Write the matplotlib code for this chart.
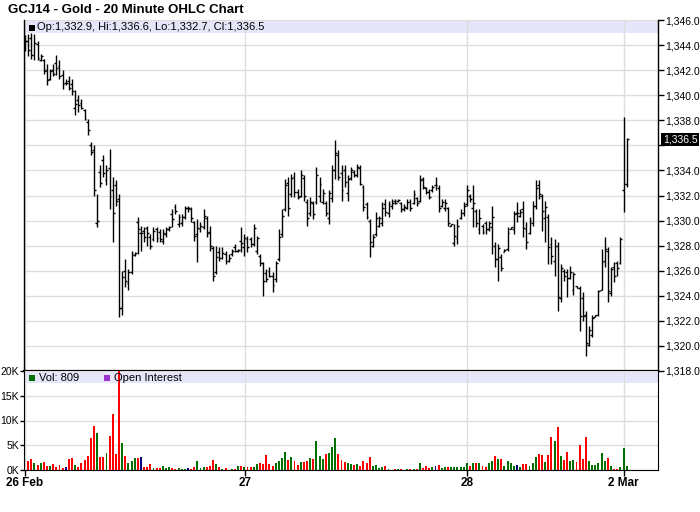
import matplotlib
matplotlib.use("Agg")
import matplotlib.pyplot as plt
import matplotlib.transforms as mtransforms
from matplotlib.patches import Rectangle
import numpy as np

plt.rcParams['font.family'] = ['Liberation Sans', 'DejaVu Sans']

# --- Data: 20 minute bars ---
TITLE = "GCJ14 - Gold - 20 Minute OHLC Chart"

highs = [
    1344.8, 1344.9, 1345.0, 1344.9, 1344.3, 1343.3, 1342.9, 1342.5, 1342.1, 1342.5,
    1343.2, 1342.8, 1342.0, 1341.3, 1341.5, 1341.3, 1340.4, 1340.0, 1339.7, 1338.9,
    1338.1, 1336.3, 1336.0, 1332.1, 1334.4, 1335.2, 1334.4, 1335.7, 1333.5, 1333.2,
    1332.1, 1326.0, 1326.9, 1326.1, 1327.6, 1327.5, 1330.3, 1329.6, 1329.5, 1329.6,
    1328.9, 1329.5, 1329.5, 1329.3, 1329.3, 1329.5, 1329.6, 1330.9, 1331.3, 1330.5,
    1330.5, 1331.2, 1331.2, 1331.1, 1330.0, 1330.1, 1329.9, 1330.9, 1330.4, 1329.6,
    1328.0, 1328.0, 1327.9, 1327.9, 1327.6, 1327.3, 1327.7, 1328.1, 1327.7, 1329.5,
    1328.9, 1328.8, 1328.7, 1329.7, 1328.8, 1327.3, 1326.7, 1326.1, 1326.3, 1325.9,
    1326.8, 1329.3, 1330.9, 1333.3, 1333.5, 1333.7, 1333.9, 1332.5, 1334.0, 1333.6,
    1331.7, 1331.9, 1331.6, 1334.3, 1333.5, 1332.5, 1331.6, 1332.4, 1334.4, 1336.4,
    1335.6, 1334.4, 1334.4, 1333.6, 1334.3, 1334.0, 1334.5, 1334.4, 1332.8, 1331.5,
    1330.1, 1328.9, 1330.7, 1330.4, 1331.5, 1331.7, 1331.6, 1331.7, 1331.7, 1331.7,
    1331.5, 1331.3, 1331.7, 1331.7, 1332.4, 1331.9, 1333.6, 1333.5, 1332.7, 1332.5,
    1332.8, 1333.5, 1332.8, 1331.7, 1331.7, 1331.1, 1329.75, 1329.7, 1330.1, 1330.9,
    1331.5, 1332.8, 1332.1, 1332.8, 1330.9, 1330.9, 1329.7, 1330.0, 1330.0, 1331.2,
    1328.3, 1328.1, 1327.3, 1327.7, 1329.5, 1329.5, 1330.8, 1331.5, 1330.9, 1331.6,
    1329.9, 1330.3, 1331.6, 1333.2, 1333.2, 1332.1, 1331.6, 1330.5, 1328.7, 1328.5,
    1328.3, 1326.5, 1326.1, 1326.1, 1326.4, 1325.9, 1324.8, 1324.8, 1324.3, 1322.8,
    1321.6, 1322.5, 1322.5, 1324.5, 1327.7, 1328.7, 1327.9, 1326.3, 1326.7, 1326.8,
    1328.7, 1338.3, 1336.6,
]

lows = [
    1343.5, 1343.1, 1342.9, 1342.8, 1342.8, 1342.7, 1341.7, 1340.8, 1341.2, 1341.5,
    1341.6, 1341.3, 1340.5, 1340.8, 1340.4, 1340.0, 1338.4, 1338.7, 1338.9, 1338.0,
    1336.8, 1335.2, 1332.0, 1329.5, 1332.7, 1333.5, 1332.8, 1330.9, 1328.3, 1331.2,
    1322.3, 1322.5, 1324.7, 1324.5, 1325.7, 1327.2, 1327.3, 1327.6, 1328.3, 1328.0,
    1327.7, 1328.4, 1328.3, 1328.3, 1328.1, 1328.7, 1329.2, 1329.5, 1330.5, 1329.5,
    1329.6, 1330.1, 1330.7, 1329.9, 1328.4, 1326.7, 1329.1, 1329.3, 1328.7, 1327.6,
    1325.2, 1325.7, 1326.8, 1326.9, 1326.5, 1326.7, 1327.2, 1327.5, 1327.5, 1327.5,
    1327.2, 1327.5, 1327.9, 1328.0, 1327.3, 1326.4, 1324.0, 1325.1, 1325.5, 1324.3,
    1325.1, 1326.8, 1328.7, 1330.8, 1330.4, 1331.9, 1331.9, 1331.7, 1331.9, 1331.6,
    1329.6, 1330.4, 1330.1, 1331.3, 1331.5, 1331.3, 1330.4, 1329.7, 1331.5, 1333.3,
    1333.2, 1331.6, 1332.7, 1331.6, 1333.2, 1333.5, 1333.5, 1332.8, 1330.8, 1330.1,
    1327.1, 1327.9, 1328.8, 1329.5, 1329.6, 1330.4, 1330.3, 1330.9, 1331.3, 1331.5,
    1330.7, 1330.8, 1330.9, 1330.8, 1331.3, 1331.2, 1331.5, 1332.5, 1332.1, 1331.7,
    1332.3, 1332.4, 1330.7, 1331.1, 1330.8, 1329.6, 1329.6, 1328.0, 1328.1, 1330.1,
    1330.4, 1331.2, 1331.5, 1329.5, 1329.5, 1328.9, 1328.9, 1328.9, 1329.2, 1327.3,
    1326.3, 1325.2, 1326.0, 1327.5, 1327.6, 1329.3, 1328.9, 1329.9, 1330.3, 1328.7,
    1327.7, 1328.9, 1329.6, 1330.9, 1331.7, 1329.2, 1328.3, 1326.5, 1326.5, 1325.6,
    1322.8, 1323.5, 1325.2, 1323.9, 1325.3, 1324.1, 1324.6, 1321.2, 1322.0, 1319.2,
    1320.0, 1320.7, 1322.3, 1322.4, 1324.5, 1326.3, 1323.5, 1324.0, 1325.1, 1325.6,
    1326.5, 1330.7, 1332.7,
]

opens = [
    1343.7, 1344.3, 1344.6, 1343.2, 1344.1, 1342.8, 1342.8, 1342.0, 1341.3, 1342.0,
    1342.6, 1342.3, 1341.6, 1341.0, 1341.1, 1340.9, 1339.0, 1339.6, 1339.4, 1338.8,
    1337.9, 1336.0, 1335.6, 1329.8, 1333.9, 1334.8, 1333.2, 1334.2, 1332.4, 1332.8,
    1331.7, 1323.0, 1326.0, 1325.0, 1325.9, 1327.25, 1329.9, 1329.0, 1329.2, 1329.4,
    1328.7, 1328.5, 1329.3, 1329.1, 1328.4, 1328.9, 1329.3, 1330.5, 1331.1, 1329.7,
    1329.8, 1330.3, 1331.0, 1330.9, 1329.9, 1328.9, 1329.3, 1329.5, 1330.2, 1329.1,
    1327.8, 1325.9, 1327.5, 1327.0, 1327.3, 1326.8, 1327.3, 1327.9, 1327.55, 1328.4,
    1327.9, 1328.5, 1328.5, 1328.1, 1327.6, 1327.2, 1326.6, 1325.8, 1326.0, 1325.6,
    1325.3, 1326.9, 1328.9, 1330.9, 1333.0, 1332.1, 1333.5, 1332.3, 1332.0, 1333.4,
    1331.5, 1330.6, 1331.4, 1331.5, 1332.0, 1331.5, 1331.4, 1330.2, 1331.8, 1334.0,
    1335.2, 1333.8, 1334.0, 1332.2, 1333.4, 1333.9, 1333.6, 1334.2, 1332.7, 1331.3,
    1330.0, 1328.0, 1328.9, 1329.6, 1329.8, 1331.3, 1330.6, 1331.2, 1331.6, 1331.55,
    1331.4, 1330.9, 1331.0, 1331.5, 1331.4, 1331.8, 1331.6, 1333.3, 1332.6, 1332.3,
    1332.4, 1332.8, 1332.6, 1331.2, 1331.0, 1331.0, 1329.6, 1328.2, 1328.6, 1330.2,
    1330.6, 1331.3, 1332.0, 1331.0, 1330.8, 1329.3, 1329.6, 1329.8, 1329.3, 1329.5,
    1328.0, 1326.9, 1327.1, 1327.5, 1327.7, 1329.3, 1329.3, 1330.6, 1330.4, 1330.9,
    1329.3, 1329.0, 1329.8, 1331.2, 1332.8, 1332.0, 1330.2, 1330.3, 1328.1, 1326.8,
    1328.0, 1323.8, 1326.0, 1325.9, 1325.4, 1324.5, 1324.75, 1324.6, 1323.8, 1322.5,
    1320.1, 1320.9, 1322.3, 1322.5, 1324.5, 1326.8, 1327.6, 1324.2, 1326.3, 1326.6,
    1326.6, 1332.4, 1332.9,
]

closes = [
    1344.3, 1343.6, 1343.2, 1344.2, 1343.0, 1343.1, 1341.9, 1341.2, 1341.9, 1341.7,
    1342.2, 1341.5, 1340.9, 1341.0, 1340.6, 1340.3, 1339.3, 1339.2, 1339.0, 1338.1,
    1337.2, 1335.5, 1332.4, 1330.0, 1333.0, 1333.8, 1334.0, 1332.0, 1330.6, 1331.6,
    1323.0, 1325.5, 1325.2, 1325.9, 1327.3, 1327.4, 1329.3, 1329.0, 1328.7, 1329.0,
    1328.0, 1329.2, 1328.6, 1328.5, 1329.0, 1329.3, 1329.5, 1330.1, 1330.8, 1330.3,
    1330.3, 1331.0, 1331.0, 1330.2, 1328.8, 1329.4, 1329.6, 1330.4, 1329.0, 1328.0,
    1325.6, 1327.1, 1327.0, 1327.4, 1326.8, 1327.0, 1327.6, 1327.6, 1327.65, 1328.2,
    1328.6, 1327.9, 1328.1, 1329.4, 1328.6, 1326.6, 1325.2, 1325.3, 1325.6, 1324.9,
    1326.6, 1328.7, 1330.4, 1332.8, 1331.0, 1333.4, 1332.3, 1331.9, 1333.6, 1332.0,
    1330.2, 1331.5, 1330.5, 1333.6, 1332.9, 1332.2, 1330.6, 1332.2, 1334.0, 1335.4,
    1333.5, 1332.4, 1333.1, 1333.3, 1334.0, 1333.6, 1334.3, 1332.9, 1331.1, 1330.3,
    1328.3, 1328.7, 1330.2, 1330.2, 1331.0, 1330.7, 1331.3, 1331.4, 1331.4, 1331.65,
    1330.9, 1331.1, 1331.5, 1331.0, 1332.1, 1331.4, 1333.2, 1332.7, 1332.3, 1331.9,
    1332.7, 1332.8, 1331.0, 1331.5, 1331.4, 1329.8, 1329.7, 1328.8, 1329.6, 1330.6,
    1331.2, 1332.4, 1331.7, 1331.4, 1329.8, 1330.2, 1329.1, 1329.3, 1329.8, 1330.3,
    1326.9, 1327.8, 1326.2, 1327.65, 1329.0, 1329.45, 1330.5, 1330.6, 1330.7, 1329.4,
    1328.3, 1330.0, 1331.2, 1332.6, 1332.1, 1330.8, 1331.1, 1327.9, 1327.2, 1328.0,
    1323.9, 1326.2, 1325.6, 1325.4, 1325.9, 1325.7, 1324.65, 1322.4, 1322.4, 1320.2,
    1321.3, 1322.2, 1322.45, 1324.4, 1326.7, 1327.7, 1324.4, 1326.1, 1325.6, 1326.2,
    1328.5, 1332.9, 1336.5,
]

volume = [
    0,
    1900, 2200, 1500, 1000, 1400, 1700, 800, 800, 1200, 600,
    1000, 500, 600, 2200, 2400, 1000, 600, 1400, 2000, 2800,
    6400, 8800, 7400, 2600, 2600, 3400, 6800, 11400, 3200, 21000,
    5400, 2800, 1400, 1800, 2400, 2400, 2600, 600, 600, 1200,
    400, 400, 400, 800, 400, 600, 400, 200, 400, 200,
    200, 400, 200, 600, 1800, 400, 600, 600, 800, 2000,
    1200, 600, 200, 400, 0, 200, 200, 800, 800, 600,
    600, 600, 600, 1200, 1400, 1200, 3000, 1200, 800, 1400,
    1800, 2400, 3600, 2000, 2600, 1800, 1000, 1600, 1600, 1800,
    2400, 2200, 5800, 2800, 2200, 3200, 3400, 4600, 6400, 3200,
    2000, 1600, 1400, 1200, 1000, 1200, 800, 1800, 1400, 2600,
    800, 1000, 400, 600, 800, 200, 0, 200, 200, 200,
    0, 200, 200, 200, 200, 1400, 400, 800, 400, 600,
    800, 1000, 400, 600, 600, 600, 600, 600, 600, 600,
    1400, 800, 1400, 1400, 1400, 800, 600, 1400, 1800, 2800,
    2200, 2200, 800, 1800, 1400, 800, 1000, 600, 1200, 1200,
    800, 1400, 2600, 3200, 3000, 1600, 3000, 6600, 5800, 8600,
    2800, 2000, 3600, 1800, 2000, 1600, 5000, 2200, 6600, 1800,
    1000, 1000, 1400, 3400, 1800, 2400, 800, 200, 200, 600,
    4400, 809,
]

day_pos = [0, 70.2, 141.2, 191]
day_labels = ["26 Feb", "27", "28", "2 Mar"]

price_ticks = list(range(1318, 1347, 2))
vol_ticks = [0, 5000, 10000, 15000, 20000]
vol_labels = ["0K", "5K", "10K", "15K", "20K"]

# --- Styling ---
W, H = 700, 512
GRID = '#DDDDDD'
BAND = '#E6E6FA'
UP = '#007000'
DOWN = '#FF0000'
FLAT = '#000080'


def fx(px):
    return px / W


def fy(py):
    return 1 - py / H


fig = plt.figure(figsize=(W / 100, H / 100), dpi=100)
fig.patch.set_facecolor('white')

ax = fig.add_axes([fx(24), fy(371), fx(658) - fx(24), fy(20) - fy(371)])
vax = fig.add_axes([fx(24), fy(470), fx(658) - fx(24), fy(371) - fy(470)], sharex=ax)

x = np.arange(len(closes))

# price bars
ax.vlines(x, lows, highs, color='black', lw=1.0, zorder=3)
ax.hlines(opens, x - 0.6, x, color='black', lw=1.0, zorder=3)
ax.hlines(closes, x, x + 0.6, color='black', lw=1.0, zorder=3)

ax.set_xlim(-0.32, 202.0)
ax.set_ylim(1318, 1346)
ax.set_axisbelow(True)
ax.set_yticks(price_ticks)
ax.set_yticklabels(['' if p == 1336 else f"{p:,.1f}" for p in price_ticks])
ax.yaxis.tick_right()
ax.tick_params(axis='y', direction='out', length=4, width=1, pad=1.5, labelsize=7.5)
ax.set_xticks(day_pos)
ax.tick_params(axis='x', length=0, labelbottom=False)
ax.grid(True, color=GRID, lw=1)
ax.spines['top'].set_visible(False)
ax.spines['bottom'].set_linewidth(1.6)
ax.spines['left'].set_linewidth(1)
ax.spines['right'].set_linewidth(1)

ax.add_patch(Rectangle((0, 1 - 13 / 351), 1, 13 / 351, transform=ax.transAxes,
                       facecolor=BAND, edgecolor='none', zorder=0.2))

# last price marker on the right axis
trans = mtransforms.blended_transform_factory(ax.transAxes, ax.transData)
ax.text(1 + 5 / 634, closes[-1], f"{closes[-1]:,.1f}", transform=trans,
        ha='left', va='center', fontsize=7.5, color='white', clip_on=False,
        bbox=dict(boxstyle='square,pad=0.15', fc='black', ec='none'))

# volume bars
colors = [UP if c > o else DOWN if c < o else FLAT for o, c in zip(opens, closes)]
vax.bar(x, volume, width=0.62, color=colors, zorder=3)
vax.set_ylim(0, 20000)
vax.set_axisbelow(True)
vax.set_yticks(vol_ticks)
vax.set_yticklabels(vol_labels)
vax.tick_params(axis='y', direction='out', length=3, width=1, pad=0.5, labelsize=7.5)
vax.set_xticks(day_pos)
vax.set_xticklabels(day_labels, fontweight='bold', fontsize=8.5)
vax.tick_params(axis='x', direction='out', length=4, width=1, pad=1)
vax.grid(True, color=GRID, lw=1)
vax.spines['top'].set_visible(False)
vax.add_patch(Rectangle((0, 1 - 12 / 99), 1, 12 / 99, transform=vax.transAxes,
                        facecolor=BAND, edgecolor='none', zorder=0.2))

# title and legends
fig.text(fx(8), fy(10), TITLE, fontsize=9.5, fontweight='bold', va='center', ha='left')

fig.add_artist(Rectangle((fx(29), fy(31)), 6 / W, 6 / H, transform=fig.transFigure,
                         facecolor='black', edgecolor='none'))
fig.text(fx(37), fy(27.5),
         f"Op:{opens[-1]:,.1f}, Hi:{highs[-1]:,.1f}, Lo:{lows[-1]:,.1f}, Cl:{closes[-1]:,.1f}",
         fontsize=8, va='center', ha='left')

fig.add_artist(Rectangle((fx(29), fy(381)), 6 / W, 6 / H, transform=fig.transFigure,
                         facecolor=UP, edgecolor='none'))
fig.text(fx(39), fy(378), f"Vol: {volume[-1]}", fontsize=8, va='center', ha='left')
fig.add_artist(Rectangle((fx(104), fy(381)), 6 / W, 6 / H, transform=fig.transFigure,
                         facecolor='#9933CC', edgecolor='none'))
fig.text(fx(114), fy(378), "Open Interest", fontsize=8, va='center', ha='left')

fig.savefig("out.png", dpi=100)
